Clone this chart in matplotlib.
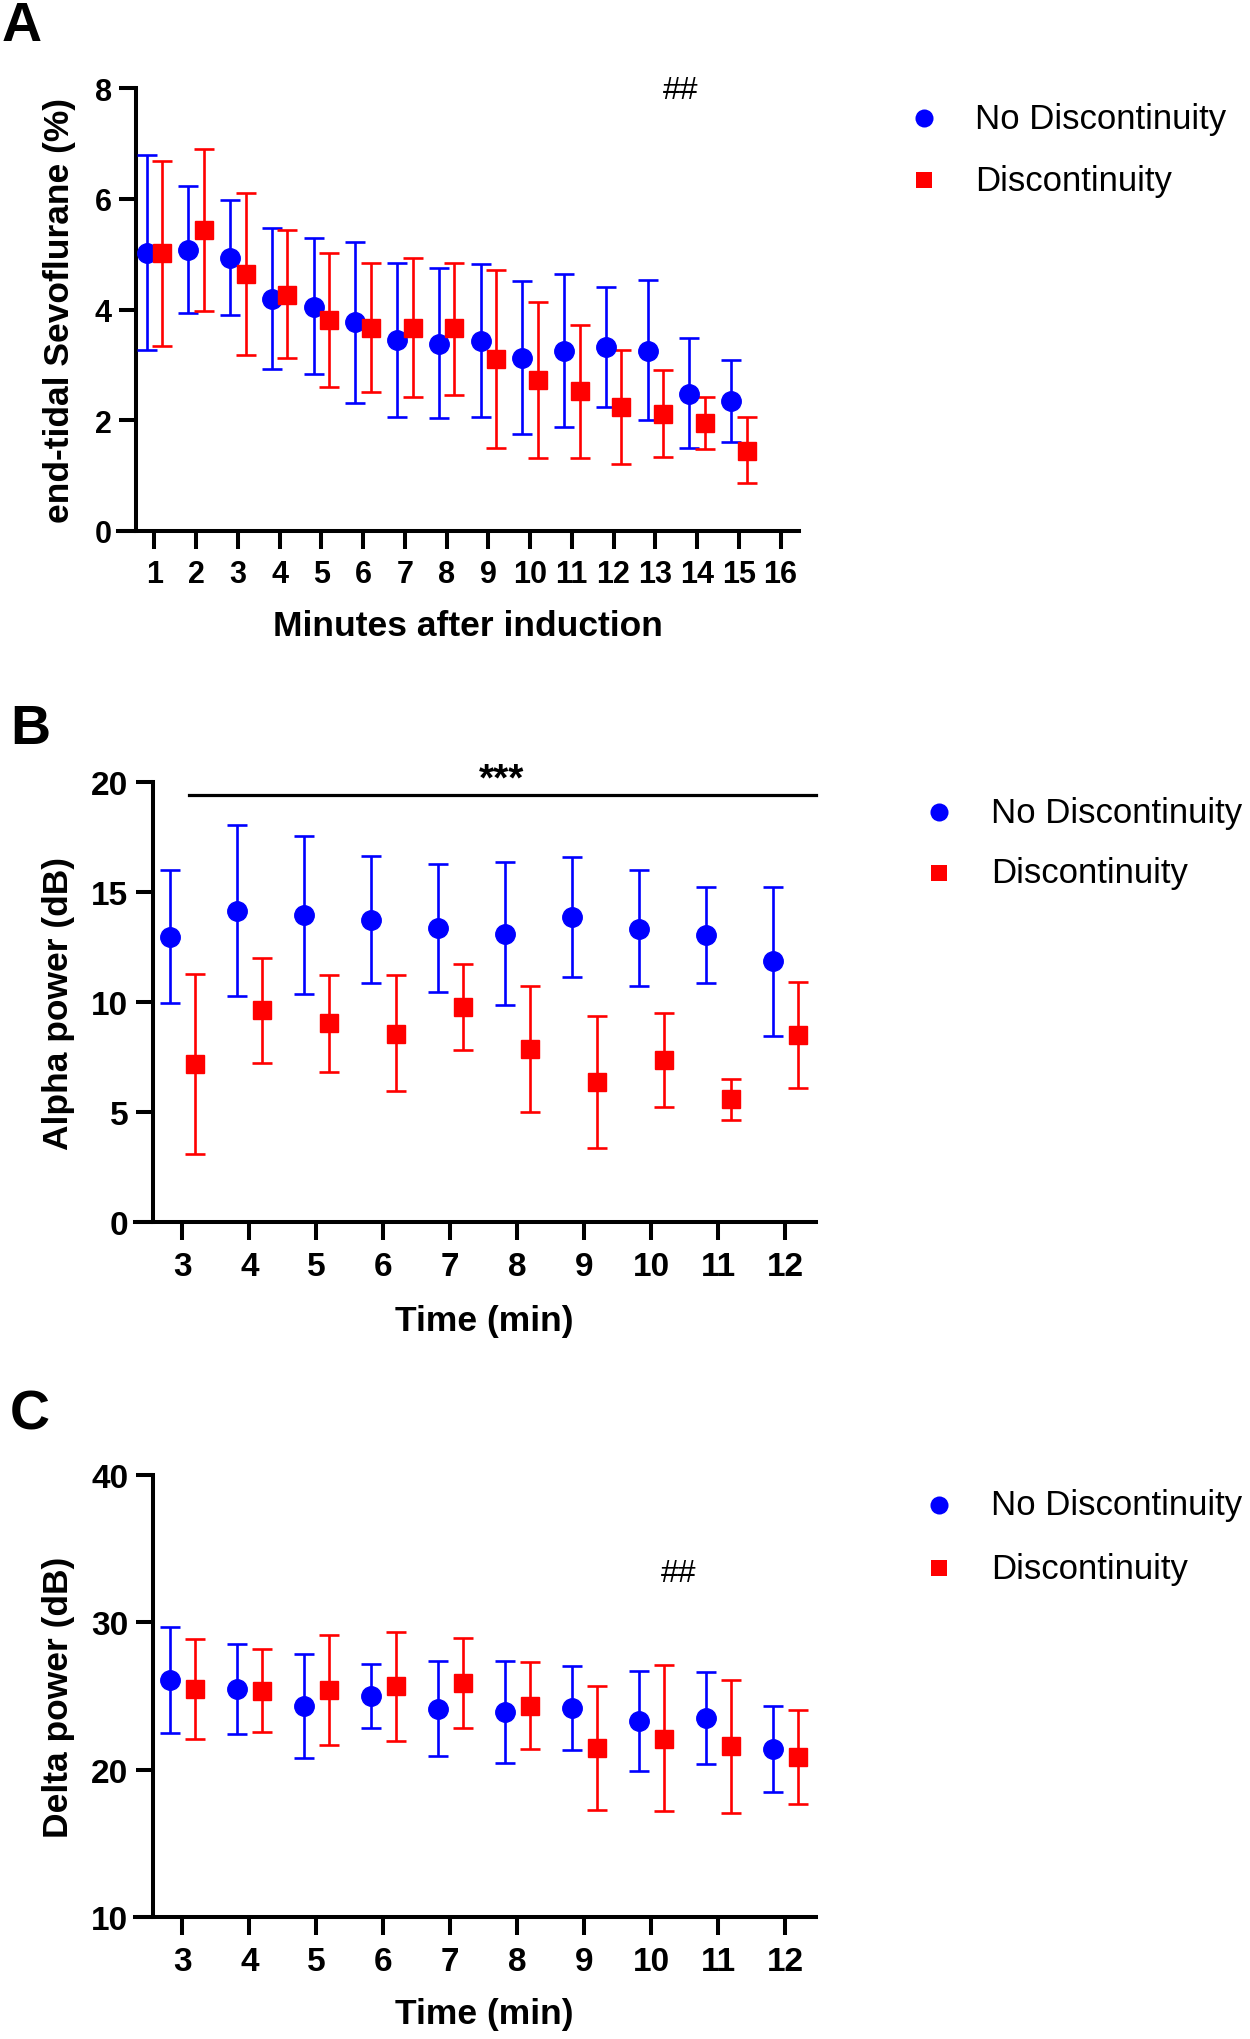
import matplotlib
matplotlib.use("Agg")
import matplotlib.pyplot as plt
from matplotlib.lines import Line2D
import numpy as np

plt.rcParams['font.family'] = ['Liberation Sans', 'DejaVu Sans']

# ---------------- data ----------------
# Panel A: end-tidal sevoflurane (%)
a_minutes = [1, 2, 3, 4, 5, 6, 7, 8, 9, 10, 11, 12, 13, 14, 15]
a_ticks = list(range(1, 17))
a_nodisc_mean = [5.03, 5.08, 4.94, 4.19, 4.05, 3.77, 3.44, 3.38, 3.43, 3.12, 3.25, 3.32, 3.25, 2.48, 2.34]
a_nodisc_hi = [6.79, 6.23, 5.98, 5.48, 5.29, 5.22, 4.84, 4.75, 4.82, 4.51, 4.65, 4.40, 4.54, 3.49, 3.09]
a_nodisc_lo = [3.27, 3.94, 3.90, 2.92, 2.83, 2.31, 2.06, 2.03, 2.06, 1.75, 1.88, 2.24, 2.00, 1.49, 1.60]
a_disc_mean = [5.02, 5.44, 4.64, 4.27, 3.81, 3.67, 3.67, 3.66, 3.11, 2.72, 2.52, 2.24, 2.11, 1.94, 1.45]
a_disc_hi = [6.69, 6.90, 6.11, 5.43, 5.02, 4.84, 4.94, 4.84, 4.71, 4.13, 3.72, 3.26, 2.90, 2.42, 2.06]
a_disc_lo = [3.34, 3.98, 3.17, 3.13, 2.60, 2.51, 2.42, 2.46, 1.50, 1.32, 1.32, 1.21, 1.33, 1.47, 0.86]

# Panel B: alpha power (dB)
b_time = [3, 4, 5, 6, 7, 8, 9, 10, 11, 12]
b_nodisc_mean = [12.98, 14.17, 13.98, 13.73, 13.37, 13.09, 13.87, 13.34, 13.07, 11.86]
b_nodisc_hi = [16.00, 18.07, 17.57, 16.63, 16.29, 16.37, 16.60, 16.01, 15.26, 15.23]
b_nodisc_lo = [9.95, 10.30, 10.37, 10.86, 10.47, 9.86, 11.14, 10.75, 10.89, 8.47]
b_disc_mean = [7.18, 9.63, 9.05, 8.58, 9.78, 7.86, 6.40, 7.39, 5.59, 8.52]
b_disc_hi = [11.28, 12.03, 11.23, 11.23, 11.72, 10.76, 9.39, 9.52, 6.51, 10.94]
b_disc_lo = [3.09, 7.25, 6.85, 5.96, 7.82, 5.01, 3.40, 5.26, 4.66, 6.10]

# Panel C: delta power (dB)
c_time = [3, 4, 5, 6, 7, 8, 9, 10, 11, 12]
c_nodisc_mean = [26.08, 25.49, 24.31, 25.01, 24.14, 23.92, 24.17, 23.30, 23.52, 21.41]
c_nodisc_hi = [29.72, 28.51, 27.89, 27.21, 27.41, 27.41, 27.04, 26.73, 26.62, 24.34]
c_nodisc_lo = [22.48, 22.42, 20.82, 22.82, 20.93, 20.45, 21.32, 19.89, 20.42, 18.51]
c_disc_mean = [25.49, 25.38, 25.44, 25.66, 25.89, 24.34, 21.46, 22.08, 21.61, 20.87]
c_disc_hi = [28.90, 28.17, 29.15, 29.35, 28.96, 27.30, 25.66, 27.13, 26.11, 24.08]
c_disc_lo = [22.11, 22.59, 21.72, 21.99, 22.85, 21.41, 17.27, 17.18, 17.10, 17.66]

series_labels = ["No Discontinuity", "Discontinuity"]
BLUE = "#0000FF"
RED = "#FF0000"

W, H = 1250, 2040
fig = plt.figure(figsize=(W / 100, H / 100), dpi=100)


def fx(px):
    return px / W


def fy(py):
    return 1 - py / H


def make_axes(left, right, top, bottom):
    return fig.add_axes([fx(left), fy(bottom), fx(right - left), (bottom - top) / H])


def style_axes(ax, xlim, spine_x, ylim, yticks, xticks, tick_fs):
    ax.set_xlim(*xlim)
    ax.set_ylim(*ylim)
    for s in ["top", "right"]:
        ax.spines[s].set_visible(False)
    ax.spines["left"].set_position(("data", spine_x))
    ax.spines["left"].set_linewidth(2.9)
    ax.spines["bottom"].set_linewidth(2.9)
    ax.set_yticks(yticks)
    ax.set_xticks(xticks)
    ax.tick_params(axis="both", direction="out", length=12.6, width=2.9,
                   labelsize=tick_fs, colors="black")
    ax.tick_params(axis="x", pad=8)
    ax.tick_params(axis="y", pad=5)
    for lab in ax.get_xticklabels() + ax.get_yticklabels():
        lab.set_fontweight("bold")


def plot_series(ax, x, mean, lo, hi, offset, color, marker, ms):
    xs = np.asarray(x, dtype=float) + offset
    m = np.asarray(mean)
    err = [m - np.asarray(lo), np.asarray(hi) - m]
    ax.errorbar(xs, m, yerr=err, fmt=marker, color=color, ecolor=color,
                markersize=ms, markeredgecolor=color, elinewidth=1.9,
                capsize=7, capthick=1.9, zorder=3)


def draw_legend(marker_x, text_x, row1_y, row2_y):
    fig.add_artist(Line2D([fx(marker_x)], [fy(row1_y)], marker="o", color=BLUE,
                          markersize=13, markeredgewidth=0, linestyle="none",
                          transform=fig.transFigure))
    fig.add_artist(Line2D([fx(marker_x)], [fy(row2_y)], marker="s", color=RED,
                          markersize=12, markeredgewidth=0, linestyle="none",
                          transform=fig.transFigure))
    fig.text(fx(text_x), fy(row1_y), series_labels[0], fontsize=25, va="center", ha="left")
    fig.text(fx(text_x), fy(row2_y), series_labels[1], fontsize=25, va="center", ha="left")


OFF_BLUE, OFF_RED = -0.18, 0.19

# ---------------- Panel A ----------------
axA = make_axes(118.3, 799.3, 89.3, 531.7)
style_axes(axA, (0.139, 16.45), 0.57, (0, 8), [0, 2, 4, 6, 8], a_ticks, 22)
plot_series(axA, a_minutes, a_nodisc_mean, a_nodisc_lo, a_nodisc_hi, OFF_BLUE, BLUE, "o", 14)
plot_series(axA, a_minutes, a_disc_mean, a_disc_lo, a_disc_hi, OFF_RED, RED, "s", 13)
axA.text(13.6, 7.97, "##", fontsize=23, ha="center", va="center")
fig.text(fx(468), fy(627), "Minutes after induction", fontsize=25.5, fontweight="bold",
         ha="center", va="center")
fig.text(fx(60), fy(310.5), "end-tidal Sevoflurane (%)", fontsize=25.5, fontweight="bold",
         ha="center", va="center", rotation=90)
fig.text(fx(2), fy(1), "A", fontsize=40, fontweight="bold", ha="left", va="top")
draw_legend(924, 975, 119.3, 181)

# ---------------- Panel B ----------------
axB = make_axes(135, 815.5, 783.3, 1223.3)
style_axes(axB, (2.294, 12.45), 2.558, (0, 20), [0, 5, 10, 15, 20], b_time, 24)
plot_series(axB, b_time, b_nodisc_mean, b_nodisc_lo, b_nodisc_hi, OFF_BLUE, BLUE, "o", 14)
plot_series(axB, b_time, b_disc_mean, b_disc_lo, b_disc_hi, OFF_RED, RED, "s", 13)
axB.plot([3.10, 12.45], [19.44, 19.44], color="black", lw=2.3, clip_on=False)
axB.text(7.76, 20.15, "***", fontsize=28, fontweight="bold", ha="center", va="center")
fig.text(fx(484), fy(1321.5), "Time (min)", fontsize=25.5, fontweight="bold",
         ha="center", va="center")
fig.text(fx(58.5), fy(1003.3), "Alpha power (dB)", fontsize=25.5, fontweight="bold",
         ha="center", va="center", rotation=90)
fig.text(fx(10), fy(704), "B", fontsize=40, fontweight="bold", ha="left", va="top")
draw_legend(939, 991, 813, 874)

# ---------------- Panel C ----------------
axC = make_axes(135, 815.5, 1476, 1918.3)
style_axes(axC, (2.294, 12.45), 2.558, (10, 40), [10, 20, 30, 40], c_time, 24)
plot_series(axC, c_time, c_nodisc_mean, c_nodisc_lo, c_nodisc_hi, OFF_BLUE, BLUE, "o", 14)
plot_series(axC, c_time, c_disc_mean, c_disc_lo, c_disc_hi, OFF_RED, RED, "s", 13)
axC.text(10.41, 33.35, "##", fontsize=23, ha="center", va="center")
fig.text(fx(484), fy(2015), "Time (min)", fontsize=25.5, fontweight="bold",
         ha="center", va="center")
fig.text(fx(58.5), fy(1697), "Delta power (dB)", fontsize=25.5, fontweight="bold",
         ha="center", va="center", rotation=90)
fig.text(fx(10), fy(1390), "C", fontsize=40, fontweight="bold", ha="left", va="top")
draw_legend(939, 991, 1506, 1569)

fig.savefig("out.png", dpi=100, facecolor="white")
